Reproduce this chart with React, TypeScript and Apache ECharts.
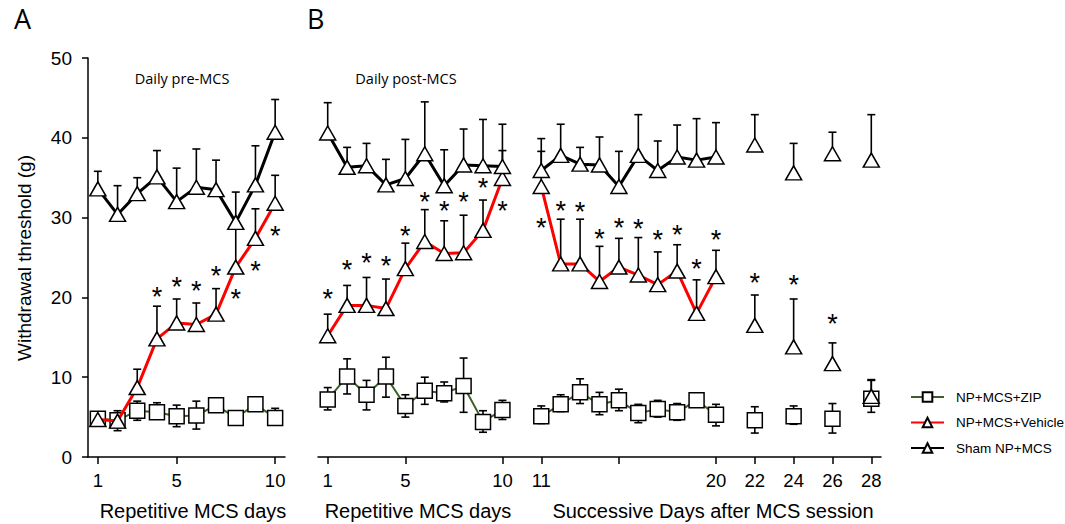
import React, { useEffect, useRef } from 'react';
import * as echarts from 'echarts';

// ---------- categories & tick labels ----------
const daysA = ['1', '2', '3', '4', '5', '6', '7', '8', '9', '10'];
const labelDaysA = ['1', '5', '10'];

const postDays = ['1', '2', '3', '4', '5', '6', '7', '8', '9', '10'];
const succDays = ['11', '12', '13', '14', '15', '16', '17', '18', '19', '20', '22', '24', '26', '28'];
const catsB = ['1', '2', '3', '4', '5', '6', '7', '8', '9', '10', '',
  '11', '12', '13', '14', '15', '16', '17', '18', '19', '20', '21', '22', '23', '24', '25', '26', '27', '28'];
const tickDaysB = ['1', '5', '10', '11', '15', '20', '22', '24', '26', '28'];
const labelDaysB = ['1', '5', '10', '11', '20', '22', '24', '26', '28'];

// ---------- Panel A (daily pre-MCS) ----------
const shamA = [33.6, 30.4, 33.0, 35.1, 32.0, 33.8, 33.5, 29.4, 34.1, 40.7];
const shamAHi = [35.8, 34.0, 35.0, 38.4, 36.2, 38.6, 37.2, 33.2, 39.0, 44.8];
const vehA = [4.7, 4.5, 8.7, 14.8, 16.8, 16.6, 17.9, 23.8, 27.4, 31.8];
const vehAHi = [5.3, 5.5, 11.0, 18.9, 19.8, 19.3, 21.1, 29.5, 31.1, 35.3];
const zipA = [4.8, 4.6, 5.8, 5.6, 5.1, 5.2, 6.5, 4.9, 6.6, 4.9];
const zipAHi = [5.6, 5.8, 7.0, 6.8, 6.5, 7.0, 7.2, 5.4, 7.4, 6.1];
const zipALo = [4.0, 3.3, 4.6, 4.9, 3.8, 3.5, 5.8, 4.4, 5.9, 4.2];
const starA: [string, number][] = [['4', 20.8], ['5', 22.1], ['6', 21.6], ['7', 23.4], ['8', 20.5], ['9', 24.1], ['10', 28.4]];

// ---------- Panel B, daily post-MCS ----------
const shamPost = [40.6, 36.3, 36.5, 34.1, 34.9, 38.0, 34.0, 36.6, 36.5, 36.4];
const shamPostHi = [44.4, 38.8, 39.3, 37.3, 39.8, 44.5, 38.5, 41.1, 42.3, 41.7];
const vehPost = [15.2, 19.0, 19.0, 18.6, 23.6, 27.0, 25.5, 25.6, 28.4, 34.9];
const vehPostHi = [17.9, 21.5, 22.5, 22.3, 26.8, 31.0, 29.6, 30.3, 32.2, 38.4];
const zipPost = [7.2, 10.1, 7.8, 10.1, 6.4, 8.3, 8.0, 8.9, 4.4, 5.9];
const zipPostHi = [8.7, 12.3, 9.6, 12.5, 7.8, 10.0, 9.4, 12.4, 5.8, 7.1];
const zipPostLo = [5.9, 7.9, 5.9, 7.5, 5.0, 6.6, 6.9, 5.6, 3.1, 4.7];
const starPost: [string, number][] = [['1', 20.5], ['2', 24.2], ['3', 25.1], ['4', 24.7], ['5', 28.4], ['6', 32.7], ['7', 31.6], ['8', 32.7], ['9', 34.5], ['10', 31.6]];

// ---------- Panel B, successive days after MCS session ----------
const shamSucc = [35.9, 37.8, 36.7, 36.6, 33.9, 37.8, 35.9, 37.6, 37.2, 37.6, 39.1, 35.6, 38.0, 37.2];
const shamSuccHi = [39.9, 41.7, 38.8, 40.1, 38.3, 42.9, 39.6, 41.6, 42.4, 41.9, 42.9, 39.3, 40.7, 42.9];
const vehSucc = [33.9, 24.2, 24.2, 22.0, 23.8, 22.8, 21.6, 23.3, 18.0, 22.6, 16.5, 13.8, 11.7, 7.6];
const vehSuccHi = [38.3, 29.8, 29.8, 26.4, 27.4, 27.5, 25.7, 26.6, 22.2, 25.9, 20.3, 19.8, 14.3, 9.6];
const zipSucc = [5.1, 6.6, 8.1, 6.6, 7.1, 5.5, 6.0, 5.6, 7.1, 5.3, 4.6, 5.1, 4.8, 7.3];
const zipSuccHi = [6.4, 7.8, 9.8, 8.1, 8.5, 6.6, 7.1, 6.7, 8.0, 6.6, 6.3, 6.4, 6.7, 9.7];
const zipSuccLo = [4.2, 5.7, 6.7, 5.3, 5.8, 4.3, 5.0, 4.6, 6.3, 3.9, 3.0, 4.1, 3.0, 5.6];
const starSucc: [string, number][] = [['11', 29.5], ['12', 31.6], ['13', 31.4], ['14', 28.1], ['15', 29.4], ['16', 29.3], ['17', 28.0], ['18', 28.6], ['19', 24.3], ['20', 28.0], ['22', 22.6], ['24', 22.3], ['26', 17.4]];

const yTicks = { min: 0, max: 50, interval: 10 };

const NAME_ZIP = 'NP+MCS+ZIP';
const NAME_VEH = 'NP+MCS+Vehicle';
const NAME_SHAM = 'Sham NP+MCS';
const GREEN = '#3b6127';
const FONT = 'Liberation Sans';

function seriesB(post: number[], succ: number[]) {
  const arr: (number | null)[] = catsB.map(() => null);
  postDays.forEach((d, i) => { arr[catsB.indexOf(d)] = post[i]; });
  succDays.forEach((d, i) => { arr[catsB.indexOf(d)] = succ[i]; });
  return arr;
}

function errA(mean: number[], hi: number[], lo?: number[]) {
  return daysA.map((d, i) => [i, lo ? lo[i] : mean[i], hi[i], lo ? 1 : 0]);
}
function errB(post: number[], postHi: number[], succ: number[], succHi: number[], postLo?: number[], succLo?: number[]) {
  const out: number[][] = [];
  postDays.forEach((d, i) => out.push([catsB.indexOf(d), postLo ? postLo[i] : post[i], postHi[i], postLo ? 1 : 0]));
  succDays.forEach((d, i) => out.push([catsB.indexOf(d), succLo ? succLo[i] : succ[i], succHi[i], succLo ? 1 : 0]));
  return out;
}

const errRender = (params: any, api: any) => {
  const x = api.value(0);
  const lo = api.value(1);
  const hi = api.value(2);
  const capLo = api.value(3);
  const top = api.coord([x, hi]);
  const bot = api.coord([x, lo]);
  const w = 4;
  const style = { stroke: '#000', lineWidth: 1.6 };
  const children: any[] = [
    { type: 'line', shape: { x1: top[0], y1: top[1], x2: bot[0], y2: bot[1] }, style },
    { type: 'line', shape: { x1: top[0] - w, y1: top[1], x2: top[0] + w, y2: top[1] }, style },
  ];
  if (capLo) {
    children.push({ type: 'line', shape: { x1: bot[0] - w, y1: bot[1], x2: bot[0] + w, y2: bot[1] }, style });
  }
  return { type: 'group', children };
};

const starRender = (params: any, api: any) => {
  const p = api.coord([api.value(0), api.value(1)]);
  return {
    type: 'text',
    x: p[0],
    y: p[1] + 6,
    style: { text: '*', fontSize: 27, fontFamily: FONT, fill: '#000', align: 'center', verticalAlign: 'middle' },
  };
};

const triStyle = { color: '#fff', borderColor: '#000', borderWidth: 1.5, opacity: 1 };

function lineSeries(name: string, data: any[], axis: number, kind: 'zip' | 'veh' | 'sham') {
  const color = kind === 'zip' ? GREEN : kind === 'veh' ? '#ff0000' : '#000';
  return {
    type: 'line',
    name,
    xAxisIndex: axis,
    yAxisIndex: axis,
    data,
    connectNulls: false,
    showSymbol: true,
    showAllSymbol: true,
    symbol: kind === 'zip' ? 'rect' : 'triangle',
    symbolSize: kind === 'zip' ? 15 : [16, 14],
    itemStyle: triStyle,
    lineStyle: { color, width: kind === 'zip' ? 2 : 3 },
    z: kind === 'zip' ? 3 : kind === 'veh' ? 4 : 5,
    silent: true,
  };
}

function errSeries(data: number[][], axis: number) {
  return {
    type: 'custom',
    xAxisIndex: axis,
    yAxisIndex: axis,
    data,
    renderItem: errRender,
    z: 2,
    silent: true,
  };
}

function starSeries(items: [string, number][], cats: string[], axis: number) {
  return {
    type: 'custom',
    xAxisIndex: axis,
    yAxisIndex: axis,
    data: items.map(([d, v]) => [cats.indexOf(d), v]),
    renderItem: starRender,
    z: 6,
    silent: true,
  };
}

function xAxisFor(grid: number, cats: string[], ticks: string[], labels: string[]) {
  return {
    type: 'category',
    gridIndex: grid,
    data: cats,
    boundaryGap: true,
    axisLine: { show: true, onZero: false, lineStyle: { color: '#000', width: 1.5 } },
    axisTick: {
      show: true,
      alignWithLabel: true,
      length: 7,
      interval: (i: number, v: string) => ticks.includes(v) && v !== '',
      lineStyle: { color: '#000', width: 1.5 },
    },
    axisLabel: {
      interval: (i: number, v: string) => labels.includes(v) && v !== '',
      fontSize: 18.5,
      color: '#000',
      fontFamily: FONT,
      margin: 14,
    },
    splitLine: { show: false },
  };
}

export default function App() {
  const ref = useRef<HTMLDivElement>(null);
  useEffect(() => {
    if (!ref.current) return;
    const chart = echarts.init(ref.current, null, { renderer: 'svg' });
    const option: any = {
      animation: false,
      backgroundColor: '#fff',
      grid: [
        { left: 88, top: 58, width: 197, height: 399, containLabel: false },
        { left: 318, top: 58, width: 563, height: 399, containLabel: false },
      ],
      xAxis: [
        xAxisFor(0, daysA, labelDaysA, labelDaysA),
        xAxisFor(1, catsB, tickDaysB, labelDaysB),
      ],
      yAxis: [
        {
          type: 'value', gridIndex: 0, ...yTicks,
          axisLine: { show: true, lineStyle: { color: '#000', width: 1.5 } },
          axisTick: { show: true, length: 6, lineStyle: { color: '#000', width: 1.5 } },
          axisLabel: { fontSize: 19, color: '#000', fontFamily: FONT, margin: 16 },
          splitLine: { show: false },
        },
        { type: 'value', gridIndex: 1, ...yTicks, show: false, splitLine: { show: false } },
      ],
      legend: {
        data: [NAME_ZIP, NAME_VEH, NAME_SHAM],
        orient: 'vertical',
        left: 905,
        top: 385,
        itemWidth: 33,
        itemHeight: 12,
        itemGap: 11.5,
        selectedMode: false,
        textStyle: { fontSize: 13.5, color: '#000', fontFamily: FONT, padding: [0, 0, 0, 7] },
      },
      graphic: [
        { type: 'text', x: 14, y: 5, style: { text: 'A', fontSize: 27, fontFamily: 'Open Sans', fill: '#000' } },
        { type: 'text', x: 307, y: 5, style: { text: 'B', fontSize: 27, fontFamily: 'Open Sans', fill: '#000' } },
        { type: 'text', x: 182, y: 78, style: { text: 'Daily pre-MCS', fontSize: 14.5, fontFamily: 'Open Sans', fill: '#000', align: 'center', verticalAlign: 'middle' } },
        { type: 'text', x: 406, y: 78, style: { text: 'Daily post-MCS', fontSize: 14.5, fontFamily: 'Open Sans', fill: '#000', align: 'center', verticalAlign: 'middle' } },
        { type: 'text', x: 24, y: 258, rotation: Math.PI / 2, style: { text: 'Withdrawal threshold (g)', fontSize: 19, fontFamily: FONT, fill: '#000', align: 'center', verticalAlign: 'middle' } },
        { type: 'text', x: 193, y: 511, style: { text: 'Repetitive MCS days', fontSize: 20, fontFamily: FONT, fill: '#000', align: 'center', verticalAlign: 'middle' } },
        { type: 'text', x: 418, y: 511, style: { text: 'Repetitive MCS days', fontSize: 20, fontFamily: FONT, fill: '#000', align: 'center', verticalAlign: 'middle' } },
        { type: 'text', x: 713, y: 511, style: { text: 'Successive Days after MCS session', fontSize: 20, fontFamily: FONT, fill: '#000', align: 'center', verticalAlign: 'middle' } },
      ],
      series: [
        errSeries(errA(zipA, zipAHi, zipALo), 0),
        errSeries(errA(vehA, vehAHi), 0),
        errSeries(errA(shamA, shamAHi), 0),
        lineSeries(NAME_ZIP, zipA, 0, 'zip'),
        lineSeries(NAME_VEH, vehA, 0, 'veh'),
        lineSeries(NAME_SHAM, shamA, 0, 'sham'),
        starSeries(starA, daysA, 0),

        errSeries(errB(zipPost, zipPostHi, zipSucc, zipSuccHi, zipPostLo, zipSuccLo), 1),
        errSeries(errB(vehPost, vehPostHi, vehSucc, vehSuccHi), 1),
        errSeries(errB(shamPost, shamPostHi, shamSucc, shamSuccHi), 1),
        lineSeries(NAME_ZIP, seriesB(zipPost, zipSucc), 1, 'zip'),
        lineSeries(NAME_VEH, seriesB(vehPost, vehSucc), 1, 'veh'),
        lineSeries(NAME_SHAM, seriesB(shamPost, shamSucc), 1, 'sham'),
        starSeries(starPost, catsB, 1),
        starSeries(starSucc, catsB, 1),
      ],
    };
    chart.setOption(option);
    return () => chart.dispose();
  }, []);
  return <div ref={ref} style={{ position: 'fixed', left: 0, top: 0, width: 1065, height: 524, background: '#fff' }} />;
}
